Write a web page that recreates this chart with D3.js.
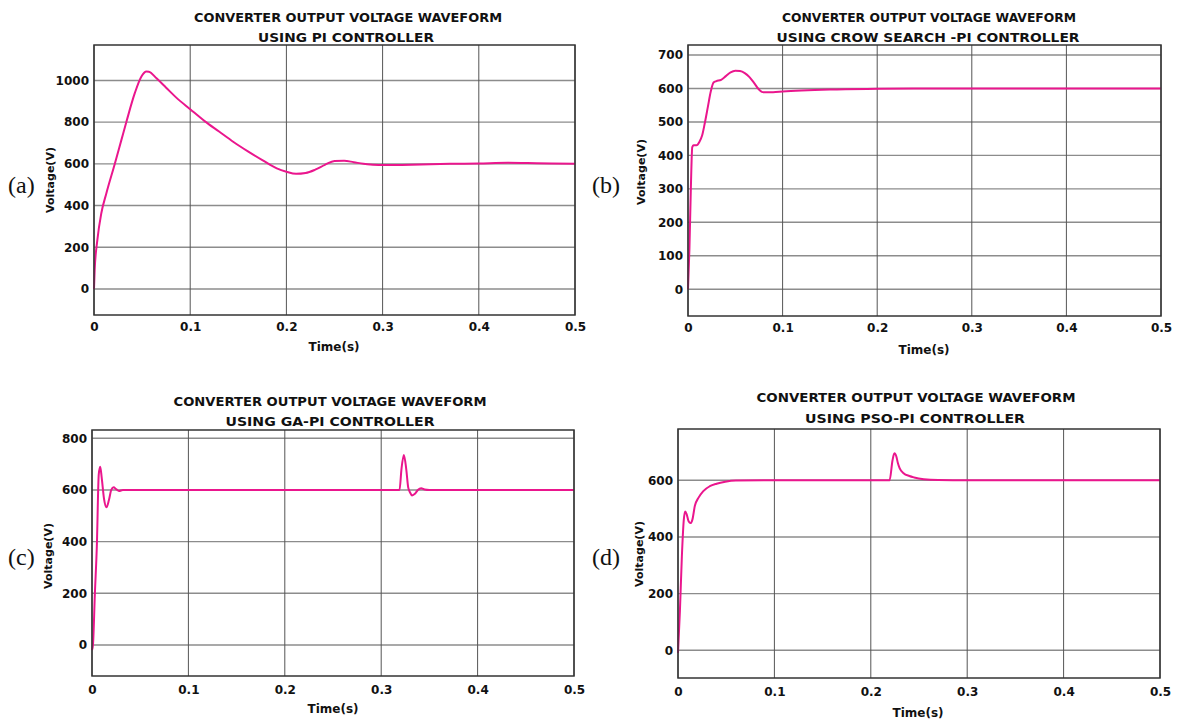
<!DOCTYPE html>
<html>
<head>
<meta charset="utf-8">
<script src="https://cdn.jsdelivr.net/npm/d3@7"></script>
<style>
  html, body { margin: 0; padding: 0; background: #fff; }
  svg { display: block; }
  text { fill: #111; }
</style>
</head>
<body>
<svg id="chart" width="1179" height="722"></svg>
<script>
// ---------------- DATA ----------------
const titleLine1 = "CONVERTER OUTPUT VOLTAGE WAVEFORM";
const titlesLine2 = ["USING PI CONTROLLER", "USING CROW SEARCH -PI CONTROLLER", "USING GA-PI CONTROLLER", "USING PSO-PI CONTROLLER"];
const panelLetters = ["(a)", "(b)", "(c)", "(d)"];
const xLabel = "Time(s)";
const yLabel = "Voltage(V)";
const xTicks = [0, 0.1, 0.2, 0.3, 0.4, 0.5];
const yTicksA = [0, 200, 400, 600, 800, 1000];
const yTicksB = [0, 100, 200, 300, 400, 500, 600, 700];
const yTicksC = [0, 200, 400, 600, 800];
const yTicksD = [0, 200, 400, 600];

// (a) PI controller
const timeA = [0, 0.0007, 0.0035, 0.0076, 0.0128, 0.0215, 0.0285, 0.0337, 0.0424, 0.0493, 0.0545, 0.057, 0.065, 0.075, 0.085, 0.1, 0.115, 0.13, 0.145, 0.16, 0.175, 0.19, 0.2, 0.21, 0.22, 0.23, 0.24, 0.25, 0.26, 0.27, 0.28, 0.29, 0.3, 0.31, 0.32, 0.34, 0.37, 0.4, 0.43, 0.46, 0.5];
const voltA = [0, 91, 235, 363, 458, 598, 715, 802, 939, 1019, 1043, 1042, 1010, 965, 920, 862, 805, 755, 705, 660, 618, 578, 562, 552, 556, 572, 595, 614, 615, 608, 600, 596, 594, 594, 595, 597, 600, 602, 605, 603, 600];

// (b) Crow search - PI controller
const timeB = [0, 0.0015, 0.003, 0.0045, 0.006, 0.009, 0.012, 0.015, 0.018, 0.021, 0.024, 0.027, 0.03, 0.035, 0.04, 0.045, 0.05, 0.055, 0.06, 0.065, 0.07, 0.075, 0.078, 0.08, 0.09, 0.1, 0.12, 0.15, 0.2, 0.25, 0.3, 0.4, 0.5];
const voltB = [0, 120, 300, 425, 430, 430, 440, 460, 500, 545, 590, 618, 622, 626, 637, 648, 653, 652, 646, 634, 616, 597, 590, 589, 589, 591, 594, 597, 599, 600, 600, 600, 600];

// (c) GA-PI controller
const timeC = [0, 0.001, 0.003, 0.005, 0.007, 0.0085, 0.01, 0.0125, 0.015, 0.0175, 0.02, 0.0225, 0.025, 0.028, 0.032, 0.04, 0.1, 0.2, 0.3, 0.319, 0.321, 0.3235, 0.326, 0.328, 0.33, 0.332, 0.335, 0.338, 0.3415, 0.345, 0.35, 0.4, 0.5];
const voltC = [-20, 0, 200, 380, 660, 690, 650, 565, 533, 560, 600, 610, 603, 596, 600, 600, 600, 600, 600, 600, 680, 735, 680, 610, 590, 579, 585, 600, 607, 602, 600, 600, 600];

// (d) PSO-PI controller
const timeD = [0, 0.002, 0.004, 0.006, 0.0075, 0.009, 0.011, 0.013, 0.015, 0.0175, 0.021, 0.026, 0.033, 0.04, 0.049, 0.06, 0.1, 0.2, 0.2195, 0.2225, 0.2245, 0.2265, 0.228, 0.23, 0.234, 0.24, 0.245, 0.255, 0.27, 0.3, 0.4, 0.5];
const voltD = [-10, 140, 330, 460, 490, 480, 455, 449, 462, 510, 537, 561, 579, 588, 595, 599, 600, 600, 600, 670, 695, 684, 662, 642, 625, 615, 610, 604, 601, 600, 600, 600];

// ---------------- LAYOUT ----------------
const panels = [
  { t: timeA, v: voltA, yTicks: yTicksA, yDom: [-125, 1170],
    box: { l: 94, r: 575, t: 45, b: 315 },
    title1: { x: 348, y: 17, w: 308 }, title2: { x: 346, y: 37, w: 176 },
    letter: { x: 8, y: 193 }, ylab: { x: 50, y: 180 }, xlab: { x: 334, y: 347 }, xtickY: 327 },
  { t: timeB, v: voltB, yTicks: yTicksB, yDom: [-80, 730],
    box: { l: 688, r: 1161, t: 45, b: 316 },
    title1: { x: 929, y: 17, w: 294 }, title2: { x: 928, y: 37, w: 303 },
    letter: { x: 592, y: 193 }, ylab: { x: 641, y: 172 }, xlab: { x: 924, y: 350 }, xtickY: 328 },
  { t: timeC, v: voltC, yTicks: yTicksC, yDom: [-120, 832],
    box: { l: 92, r: 574, t: 430, b: 676 },
    title1: { x: 330, y: 401, w: 313 }, title2: { x: 330, y: 421, w: 209 },
    letter: { x: 8, y: 565 }, ylab: { x: 48, y: 556 }, xlab: { x: 333, y: 709 }, xtickY: 690 },
  { t: timeD, v: voltD, yTicks: yTicksD, yDom: [-98, 781],
    box: { l: 678, r: 1160, t: 429, b: 678 },
    title1: { x: 916, y: 397, w: 319 }, title2: { x: 915, y: 418, w: 220 },
    letter: { x: 592, y: 565 }, ylab: { x: 639, y: 554 }, xlab: { x: 918, y: 713 }, xtickY: 692 }
];

const svg = d3.select("#chart");
const lineColor = "#ea168d";
const sansBold = "'DejaVu Sans', Verdana, sans-serif";

panels.forEach((p, i) => {
  const x = d3.scaleLinear().domain([0, 0.5]).range([p.box.l, p.box.r]);
  const y = d3.scaleLinear().domain(p.yDom).range([p.box.b, p.box.t]);
  const g = svg.append("g");

  // grid lines
  g.append("g").selectAll("line").data(p.yTicks).join("line")
    .attr("x1", p.box.l).attr("x2", p.box.r)
    .attr("y1", d => y(d)).attr("y2", d => y(d))
    .attr("stroke", "#8c8c8c").attr("stroke-width", 1.4);
  g.append("g").selectAll("line").data(xTicks).join("line")
    .attr("x1", d => x(d)).attr("x2", d => x(d))
    .attr("y1", p.box.t).attr("y2", p.box.b)
    .attr("stroke", "#555").attr("stroke-width", 1);

  // axes using d3 axis generators for labels
  const xAxis = d3.axisBottom(x).tickValues(xTicks).tickSize(0).tickPadding(0)
    .tickFormat(d => d === 0 ? "0" : d3.format(".1f")(d));
  const xa = g.append("g").attr("transform", `translate(0,${p.xtickY})`).call(xAxis);
  xa.select(".domain").remove();
  xa.selectAll("text").attr("dy", "0.35em").attr("y", 0)
    .style("font-family", sansBold).style("font-weight", "bold").style("font-size", "12px").style("fill", "#111");

  const yAxis = d3.axisLeft(y).tickValues(p.yTicks).tickSize(0).tickPadding(5).tickFormat(d3.format("d"));
  const ya = g.append("g").attr("transform", `translate(${p.box.l},0)`).call(yAxis);
  ya.select(".domain").remove();
  ya.selectAll("text")
    .style("font-family", sansBold).style("font-weight", "bold").style("font-size", "12px").style("fill", "#111");

  // data line
  const pts = p.t.map((tv, k) => [tv, p.v[k]]);
  g.append("path").datum(pts)
    .attr("fill", "none").attr("stroke", lineColor).attr("stroke-width", 2)
    .attr("stroke-linejoin", "round")
    .attr("d", d3.line().x(d => x(d[0])).y(d => y(d[1])).curve(d3.curveMonotoneX));

  // border
  g.append("rect").attr("x", p.box.l).attr("y", p.box.t)
    .attr("width", p.box.r - p.box.l).attr("height", p.box.b - p.box.t)
    .attr("fill", "none").attr("stroke", "#333").attr("stroke-width", 1.5);

  // titles
  g.append("text").attr("x", p.title1.x).attr("y", p.title1.y).attr("dy", "0.35em")
    .attr("text-anchor", "middle").attr("textLength", p.title1.w).attr("lengthAdjust", "spacingAndGlyphs")
    .style("font-family", sansBold).style("font-weight", "bold").style("font-size", "13px")
    .text(titleLine1);
  g.append("text").attr("x", p.title2.x).attr("y", p.title2.y).attr("dy", "0.35em")
    .attr("text-anchor", "middle").attr("textLength", p.title2.w).attr("lengthAdjust", "spacingAndGlyphs")
    .style("font-family", sansBold).style("font-weight", "bold").style("font-size", "13px")
    .text(titlesLine2[i]);

  // axis labels
  g.append("text").attr("transform", `translate(${p.ylab.x},${p.ylab.y}) rotate(-90)`)
    .attr("text-anchor", "middle").attr("dy", "0.35em")
    .style("font-family", sansBold).style("font-weight", "bold").style("font-size", "11px")
    .text(yLabel);
  g.append("text").attr("x", p.xlab.x).attr("y", p.xlab.y).attr("dy", "0.35em")
    .attr("text-anchor", "middle")
    .style("font-family", sansBold).style("font-weight", "bold").style("font-size", "12px")
    .text(xLabel);

  // panel letter
  g.append("text").attr("x", p.letter.x).attr("y", p.letter.y)
    .style("font-family", "'Liberation Serif', 'Times New Roman', serif").style("font-size", "24px")
    .text(panelLetters[i]);
});
</script>
</body>
</html>
